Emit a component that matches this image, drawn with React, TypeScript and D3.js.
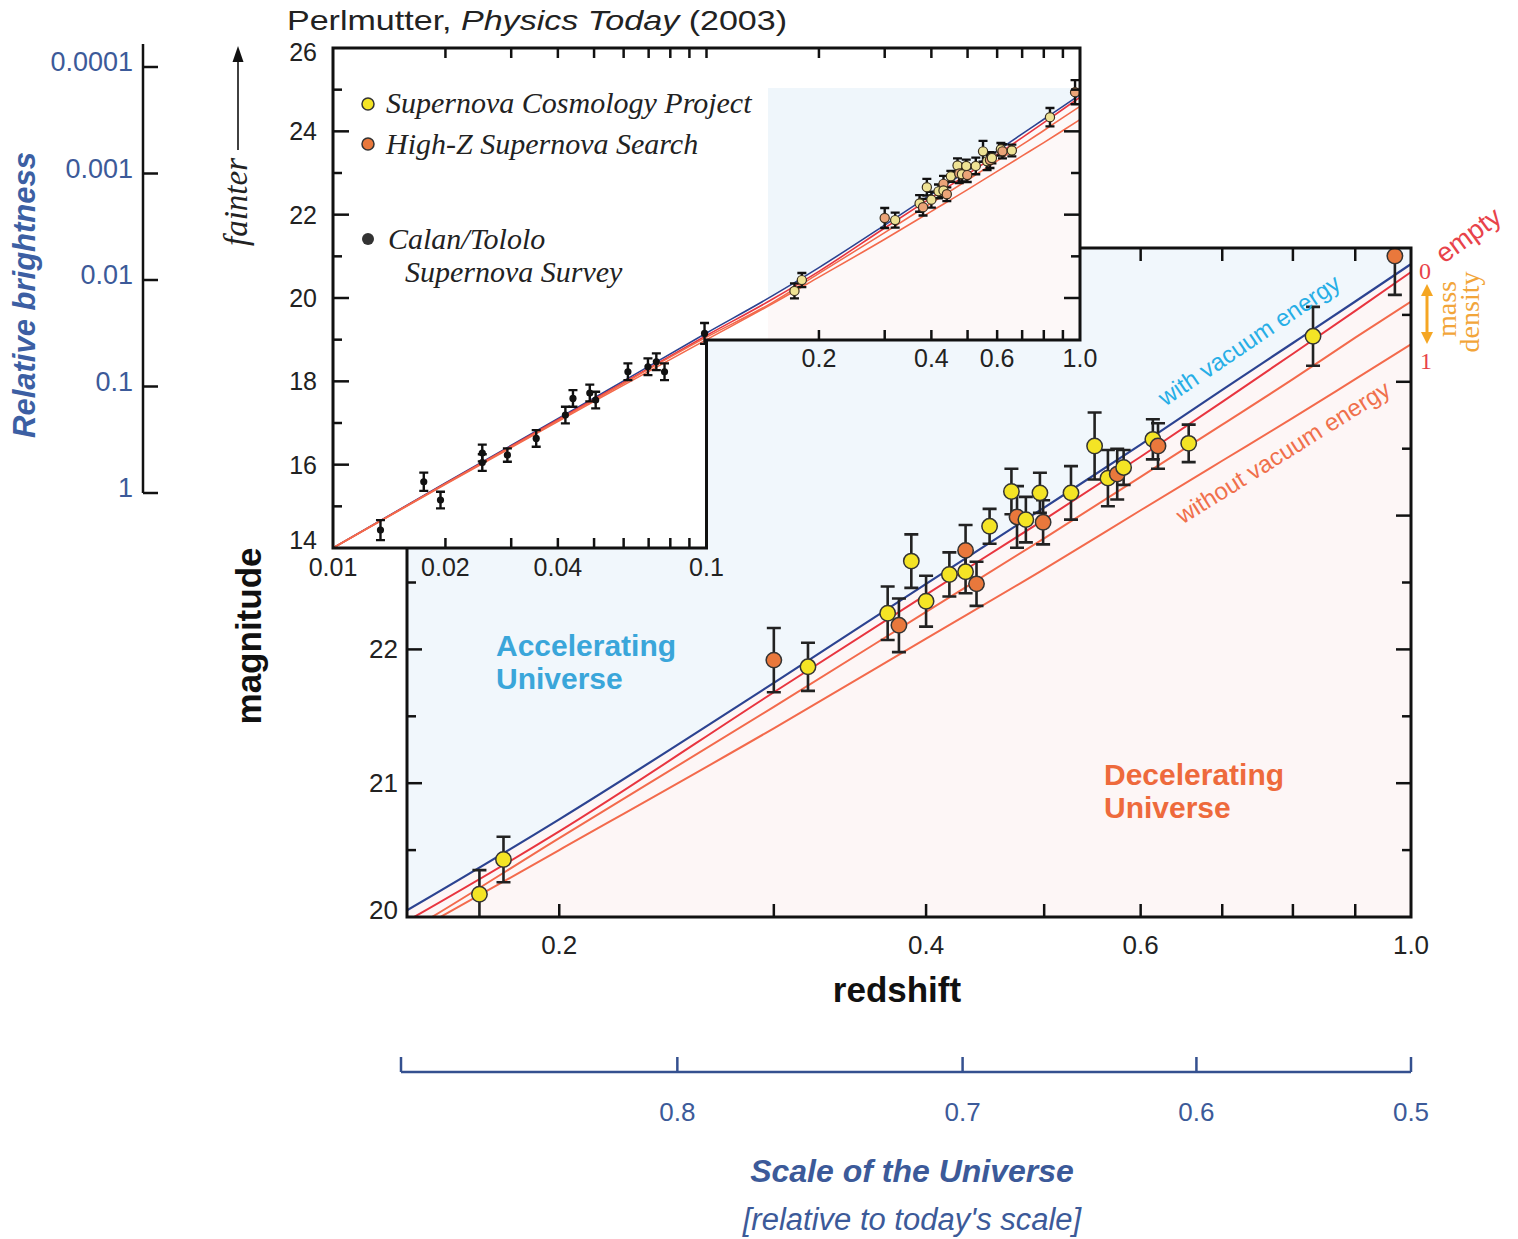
import React from "react";
import * as d3 from "d3";

// model curves: magnitude at each redshift
const modelZ = [0.01, 0.02, 0.05, 0.1, 0.15, 0.2, 0.3, 0.4, 0.5, 0.6, 0.7, 0.8, 0.9, 1.0];
const withVacuum = [14.0, 15.56, 17.6, 19.16, 20.05, 20.73, 21.75, 22.49, 23.06, 23.53, 23.94, 24.29, 24.6, 24.88];
const emptyModel = [14.0, 15.55, 17.57, 19.1, 19.97, 20.64, 21.68, 22.41, 22.97, 23.44, 23.85, 24.21, 24.53, 24.82];
const halfMass = [14.0, 15.54, 17.55, 19.06, 19.89, 20.59, 21.57, 22.28, 22.83, 23.29, 23.68, 24.02, 24.33, 24.6];
const fullMass = [14.0, 15.53, 17.52, 19.0, 19.86, 20.5, 21.41, 22.08, 22.6, 23.04, 23.41, 23.73, 24.02, 24.28];

// high redshift supernovae (SCP = Supernova Cosmology Project, HZ = High-Z Supernova Search)
const hiZ = [0.172, 0.18, 0.3, 0.32, 0.372, 0.38, 0.389, 0.4, 0.418, 0.431, 0.431, 0.44, 0.451, 0.47, 0.475, 0.483, 0.496, 0.499, 0.526, 0.55, 0.564, 0.574, 0.581, 0.614, 0.62, 0.657, 0.831, 0.97];
const hiMag = [20.17, 20.43, 21.92, 21.87, 22.27, 22.18, 22.66, 22.36, 22.56, 22.74, 22.58, 22.49, 22.92, 23.18, 22.99, 22.97, 23.17, 22.95, 23.17, 23.52, 23.28, 23.31, 23.36, 23.57, 23.52, 23.54, 24.34, 24.94];
const hiErr = [0.18, 0.17, 0.24, 0.18, 0.2, 0.2, 0.2, 0.19, 0.165, 0.19, 0.16, 0.165, 0.13, 0.17, 0.23, 0.17, 0.15, 0.165, 0.2, 0.25, 0.21, 0.19, 0.13, 0.15, 0.17, 0.14, 0.22, 0.29];
const hiSurvey = ["SCP", "SCP", "HZ", "SCP", "SCP", "HZ", "SCP", "SCP", "SCP", "HZ", "SCP", "HZ", "SCP", "SCP", "HZ", "SCP", "SCP", "HZ", "SCP", "SCP", "SCP", "HZ", "SCP", "SCP", "HZ", "SCP", "SCP", "HZ"];

// Calan/Tololo nearby supernovae
const loZ = [0.0134, 0.0175, 0.0194, 0.0251, 0.0251, 0.0293, 0.035, 0.0419, 0.0439, 0.0487, 0.0505, 0.0616, 0.0697, 0.0734, 0.0772, 0.0988];
const loMag = [14.43, 15.59, 15.15, 16.28, 16.05, 16.23, 16.63, 17.19, 17.59, 17.72, 17.55, 18.23, 18.35, 18.47, 18.23, 19.15];
const loErr = [0.24, 0.22, 0.2, 0.2, 0.2, 0.16, 0.2, 0.2, 0.2, 0.2, 0.2, 0.2, 0.2, 0.2, 0.2, 0.25];

// axis ticks
const mainZTicks = [0.2, 0.3, 0.4, 0.5, 0.6, 0.7, 0.8, 0.9];
const mainZLabels = [0.2, 0.4, 0.6, 1.0];
const mainMagTicks = [20.5, 21, 21.5, 22, 22.5, 23, 23.5, 24, 24.5];
const mainMagLabels = [20, 21, 22, 23, 24];
const insetZLow = [0.02, 0.03, 0.04, 0.05, 0.06, 0.07, 0.08, 0.09, 0.1];
const insetZHigh = [0.2, 0.3, 0.4, 0.5, 0.6, 0.7, 0.8, 0.9];
const insetZLabelsLow = [0.01, 0.02, 0.04, 0.1];
const insetZLabelsHigh = [0.2, 0.4, 0.6, 1.0];
const insetMagTicks = [15, 16, 17, 18, 19, 20, 21, 22, 23, 24, 25];
const insetMagLabels = [14, 16, 18, 20, 22, 24, 26];
const brightnessTicks = [1, 0.1, 0.01, 0.001, 0.0001];
const brightnessLabels = ["1", "0.1", "0.01", "0.001", "0.0001"];
const scaleTicks = [0.8, 0.7, 0.6, 0.5];

const SANS = "'Liberation Sans', Arial, Helvetica, sans-serif";
const SERIF = "'Liberation Serif', 'Times New Roman', serif";
const YELLOW = "#f4e425";
const ORANGE = "#e9783c";

const xMain = d3.scaleLog().domain([0.15, 1]).range([407, 1411]);
const yMain = d3.scaleLinear().domain([20, 25]).range([917, 248]);
const xIn = d3.scaleLog().domain([0.01, 1]).range([333, 1080]);
const yIn = d3.scaleLinear().domain([14, 26]).range([548, 48]);
const yBright = d3.scaleLog().domain([1, 0.0001]).range([493, 67]);

const curves = [
  { m: withVacuum, color: "#2c4391", w: 2.2 },
  { m: emptyModel, color: "#e8353f", w: 2 },
  { m: halfMass, color: "#f36a4c", w: 2 },
  { m: fullMass, color: "#f36a4c", w: 2 },
];

const errPath = (x: number, y0: number, y1: number, cap: number) =>
  `M${x - cap / 2},${y0}H${x + cap / 2}M${x},${y0}V${y1}M${x - cap / 2},${y1}H${x + cap / 2}`;

const App = () => {
  const mainLine = (m: number[]) =>
    d3
      .line<number>()
      .x((_, i) => xMain(modelZ[i]))
      .y((d) => yMain(d))
      .curve(d3.curveMonotoneX)(m) as string;
  const insetLine = (m: number[]) =>
    d3
      .line<number>()
      .x((_, i) => xIn(modelZ[i]))
      .y((d) => yIn(d))
      .curve(d3.curveMonotoneX)(m) as string;

  const mainAbove = d3
    .area<number>()
    .x((_, i) => xMain(modelZ[i]))
    .y0(yMain(25))
    .y1((d) => yMain(d))
    .curve(d3.curveMonotoneX)(withVacuum) as string;
  const insetAbove = d3
    .area<number>()
    .x((_, i) => xIn(modelZ[i]))
    .y0(yIn(26))
    .y1((d) => yIn(d))
    .curve(d3.curveMonotoneX)(withVacuum) as string;

  const notchY = yIn(20) + 42;
  const insetShape = `M${xIn(0.01)},${yIn(26)}H${xIn(1)}V${notchY}H${xIn(0.1)}V${yIn(14)}H${xIn(0.01)}Z`;

  return (
    <div style={{ position: "absolute", left: 0, top: 0 }}>
      <svg width={1518} height={1239} style={{ display: "block", background: "#fff" }}>
        <defs>
          <clipPath id="mainClip">
            <rect x={407} y={248} width={1004} height={669} />
          </clipPath>
          <clipPath id="insetClip">
            <path d={insetShape} />
          </clipPath>
          <clipPath id="insetTint">
            <rect x={768} y={88} width={312} height={notchY - 88} />
          </clipPath>
        </defs>

        {/* ---------- main plot ---------- */}
        <g clipPath="url(#mainClip)">
          <rect x={407} y={248} width={1004} height={669} fill="#fdf6f6" />
          <path d={mainAbove} fill="#f1f7fc" />
          {curves.map((c, i) => (
            <path key={i} d={mainLine(c.m)} fill="none" stroke={c.color} strokeWidth={c.w} />
          ))}
          {hiZ.map((z, i) => (
            <path
              key={"e" + i}
              d={errPath(xMain(z), yMain(hiMag[i] + hiErr[i]), yMain(hiMag[i] - hiErr[i]), 14)}
              stroke="#222"
              strokeWidth={2.6}
              fill="none"
            />
          ))}
          {hiZ.map((z, i) => (
            <circle
              key={"c" + i}
              cx={xMain(z)}
              cy={yMain(hiMag[i])}
              r={7.7}
              fill={hiSurvey[i] === "SCP" ? YELLOW : ORANGE}
              stroke="#333"
              strokeWidth={1.5}
            />
          ))}
        </g>
        <g stroke="#111" strokeWidth={2.5}>
          {mainZTicks.map((z) => (
            <g key={z}>
              <line x1={xMain(z)} x2={xMain(z)} y1={917} y2={904} />
              <line x1={xMain(z)} x2={xMain(z)} y1={248} y2={261} />
            </g>
          ))}
          {mainMagTicks.map((m) => {
            const len = Number.isInteger(m) ? 15 : 9;
            return (
              <g key={m}>
                <line x1={407} x2={407 + len} y1={yMain(m)} y2={yMain(m)} />
                <line x1={1411} x2={1411 - len} y1={yMain(m)} y2={yMain(m)} />
              </g>
            );
          })}
        </g>
        <rect x={407} y={248} width={1004} height={669} fill="none" stroke="#111" strokeWidth={3} />
        <g fontFamily={SANS} fontSize={26} fill="#222">
          {mainZLabels.map((z) => (
            <text key={z} x={xMain(z)} y={945} textAnchor="middle" dominantBaseline="central">
              {z.toFixed(1)}
            </text>
          ))}
          {mainMagLabels.map((m) => (
            <text key={m} x={398} y={Math.min(yMain(m), 910)} textAnchor="end" dominantBaseline="central">
              {m}
            </text>
          ))}
        </g>
        <text x={897} y={989} textAnchor="middle" dominantBaseline="central" fontFamily={SANS} fontWeight="bold" fontSize={35} fill="#111">
          redshift
        </text>
        <text transform="translate(248,636) rotate(-90)" textAnchor="middle" dominantBaseline="central" fontFamily={SANS} fontWeight="bold" fontSize={35} fill="#111">
          magnitude
        </text>
        <g fontFamily={SANS} fontWeight="bold" fontSize={30}>
          <text x={496} y={656} fill="#3aa6da">Accelerating</text>
          <text x={496} y={689} fill="#3aa6da">Universe</text>
          <text x={1104} y={785} fill="#ee6a3c">Decelerating</text>
          <text x={1104} y={818} fill="#ee6a3c">Universe</text>
        </g>
        <text transform="translate(1249,340) rotate(-34)" textAnchor="middle" dominantBaseline="central" fontFamily={SANS} fontSize={24} fill="#27aee6">
          with vacuum energy
        </text>
        <text transform="translate(1283,452) rotate(-32)" textAnchor="middle" dominantBaseline="central" fontFamily={SANS} fontSize={24} fill="#f0704c">
          without vacuum energy
        </text>
        <text x={1419} y={279} fontFamily={SERIF} fontSize={24} fill="#e8434a">0</text>
        <text x={1420} y={369} fontFamily={SERIF} fontSize={24} fill="#e8434a">1</text>
        <text transform="translate(1444,264) rotate(-36)" fontFamily={SANS} fontSize={27} fill="#e8434a">empty</text>
        <g fill="#f5a623" stroke="#f5a623">
          <line x1={1427} x2={1427} y1={292} y2={336} strokeWidth={3} />
          <path d="M1427,284L1421,296L1433,296Z" stroke="none" />
          <path d="M1427,344L1421,332L1433,332Z" stroke="none" />
        </g>
        <g fontFamily={SERIF} fontSize={28} fill="#f2a53a" textAnchor="middle" dominantBaseline="central">
          <text transform="translate(1446,309) rotate(-90)">mass</text>
          <text transform="translate(1469,312) rotate(-90)">density</text>
        </g>

        {/* ---------- inset ---------- */}
        <path d={insetShape} fill="#fff" />
        <g clipPath="url(#insetClip)">
          <g clipPath="url(#insetTint)">
            <rect x={768} y={88} width={312} height={notchY - 88} fill="#fdf8f8" />
            <path d={insetAbove} fill="#eff6fb" />
          </g>
          {curves.map((c, i) => (
            <path key={i} d={insetLine(c.m)} fill="none" stroke={c.color} strokeWidth={1.6} />
          ))}
          {loZ.map((z, i) => (
            <path
              key={"le" + i}
              d={errPath(xIn(z), yIn(loMag[i] + loErr[i]), yIn(loMag[i] - loErr[i]), 9)}
              stroke="#111"
              strokeWidth={2.4}
              fill="none"
            />
          ))}
          {loZ.map((z, i) => (
            <circle key={"lc" + i} cx={xIn(z)} cy={yIn(loMag[i])} r={3.6} fill="#111" />
          ))}
          {hiZ.map((z, i) => (
            <path
              key={"he" + i}
              d={errPath(xIn(z), yIn(hiMag[i] + hiErr[i]), yIn(hiMag[i] - hiErr[i]), 9)}
              stroke="#111"
              strokeWidth={2.4}
              fill="none"
            />
          ))}
          {hiZ.map((z, i) => (
            <circle
              key={"hc" + i}
              cx={xIn(z)}
              cy={yIn(hiMag[i])}
              r={4.6}
              fill={hiSurvey[i] === "SCP" ? "#eee294" : "#eba478"}
              stroke="#3a3020"
              strokeWidth={1.2}
            />
          ))}
        </g>
        <g stroke="#111" strokeWidth={2.5}>
          {insetZLow.concat(insetZHigh).map((z) => (
            <line key={"t" + z} x1={xIn(z)} x2={xIn(z)} y1={48} y2={58} />
          ))}
          {insetZLow.map((z) => (
            <line key={"bl" + z} x1={xIn(z)} x2={xIn(z)} y1={548} y2={538} />
          ))}
          {insetZHigh.map((z) => (
            <line key={"bh" + z} x1={xIn(z)} x2={xIn(z)} y1={notchY} y2={notchY - 10} />
          ))}
          {insetMagTicks.map((m) => {
            const len = m % 2 === 0 ? 16 : 9;
            return (
              <g key={"m" + m}>
                <line x1={333} x2={333 + len} y1={yIn(m)} y2={yIn(m)} />
                {yIn(m) < notchY - 5 && <line x1={1080} x2={1080 - len} y1={yIn(m)} y2={yIn(m)} />}
              </g>
            );
          })}
        </g>
        <path d={insetShape} fill="none" stroke="#111" strokeWidth={3} />
        <g fontFamily={SANS} fontSize={25} fill="#222">
          {insetMagLabels.map((m) => (
            <text key={m} x={317} y={Math.max(Math.min(yIn(m), 540), 52)} textAnchor="end" dominantBaseline="central">
              {m}
            </text>
          ))}
          {insetZLabelsLow.map((z) => (
            <text key={z} x={xIn(z)} y={567} textAnchor="middle" dominantBaseline="central">
              {z}
            </text>
          ))}
          {insetZLabelsHigh.map((z) => (
            <text key={z} x={xIn(z)} y={358} textAnchor="middle" dominantBaseline="central">
              {z.toFixed(1)}
            </text>
          ))}
        </g>
        <g fontFamily={SERIF} fontStyle="italic" fontSize={30} fill="#222">
          <circle cx={368} cy={104} r={6} fill={YELLOW} stroke="#333" strokeWidth={1.5} />
          <text x={386} y={113}>Supernova Cosmology Project</text>
          <circle cx={368} cy={144} r={6} fill={ORANGE} stroke="#333" strokeWidth={1.5} />
          <text x={386} y={154}>High-Z Supernova Search</text>
          <circle cx={368} cy={239} r={6} fill="#333" />
          <text x={388} y={249}>Calan/Tololo</text>
          <text x={405} y={282}>Supernova Survey</text>
        </g>
        <text x={287} y={30} fontFamily={SANS} fontSize={28} fill="#222" textLength={500} lengthAdjust="spacingAndGlyphs">
          Perlmutter, <tspan fontStyle="italic">Physics Today</tspan> (2003)
        </text>

        {/* ---------- fainter arrow ---------- */}
        <line x1={238} x2={238} y1={150} y2={58} stroke="#111" strokeWidth={1.6} />
        <path d="M238,46L232.5,62L243.5,62Z" fill="#111" />
        <text transform="translate(236,202) rotate(-90)" textAnchor="middle" dominantBaseline="central" fontFamily={SERIF} fontStyle="italic" fontSize={33} fill="#222">
          fainter
        </text>

        {/* ---------- relative brightness axis ---------- */}
        <g stroke="#111" strokeWidth={2.5}>
          <line x1={143} x2={143} y1={44} y2={yBright(1)} />
          {brightnessTicks.map((b) => (
            <line key={b} x1={143} x2={158} y1={yBright(b)} y2={yBright(b)} />
          ))}
        </g>
        <g fontFamily={SANS} fontSize={27} fill="#3c5a99">
          {brightnessTicks.map((b, i) => (
            <text key={b} x={133} y={yBright(b) - 5} textAnchor="end" dominantBaseline="central">
              {brightnessLabels[i]}
            </text>
          ))}
        </g>
        <text transform="translate(24,295) rotate(-90)" textAnchor="middle" dominantBaseline="central" fontFamily={SANS} fontStyle="italic" fontWeight="bold" fontSize={31} fill="#3c5fa3">
          Relative brightness
        </text>

        {/* ---------- scale of the universe axis ---------- */}
        <g stroke="#34508f" strokeWidth={2.5}>
          <line x1={401} x2={1411} y1={1072} y2={1072} />
          <line x1={401} x2={401} y1={1072} y2={1057} />
          {scaleTicks.map((a) => (
            <line key={a} x1={xMain(1 / a - 1)} x2={xMain(1 / a - 1)} y1={1072} y2={1057} />
          ))}
        </g>
        <g fontFamily={SANS} fontSize={26} fill="#3c5a99">
          {scaleTicks.map((a) => (
            <text key={a} x={xMain(1 / a - 1)} y={1112} textAnchor="middle" dominantBaseline="central">
              {a}
            </text>
          ))}
        </g>
        <text x={912} y={1171} textAnchor="middle" dominantBaseline="central" fontFamily={SANS} fontStyle="italic" fontWeight="bold" fontSize={32} fill="#3c5a99">
          Scale of the Universe
        </text>
        <text x={912} y={1219} textAnchor="middle" dominantBaseline="central" fontFamily={SANS} fontStyle="italic" fontSize={31} fill="#3c5a99">
          [relative to today's scale]
        </text>
      </svg>
    </div>
  );
};

export default App;
